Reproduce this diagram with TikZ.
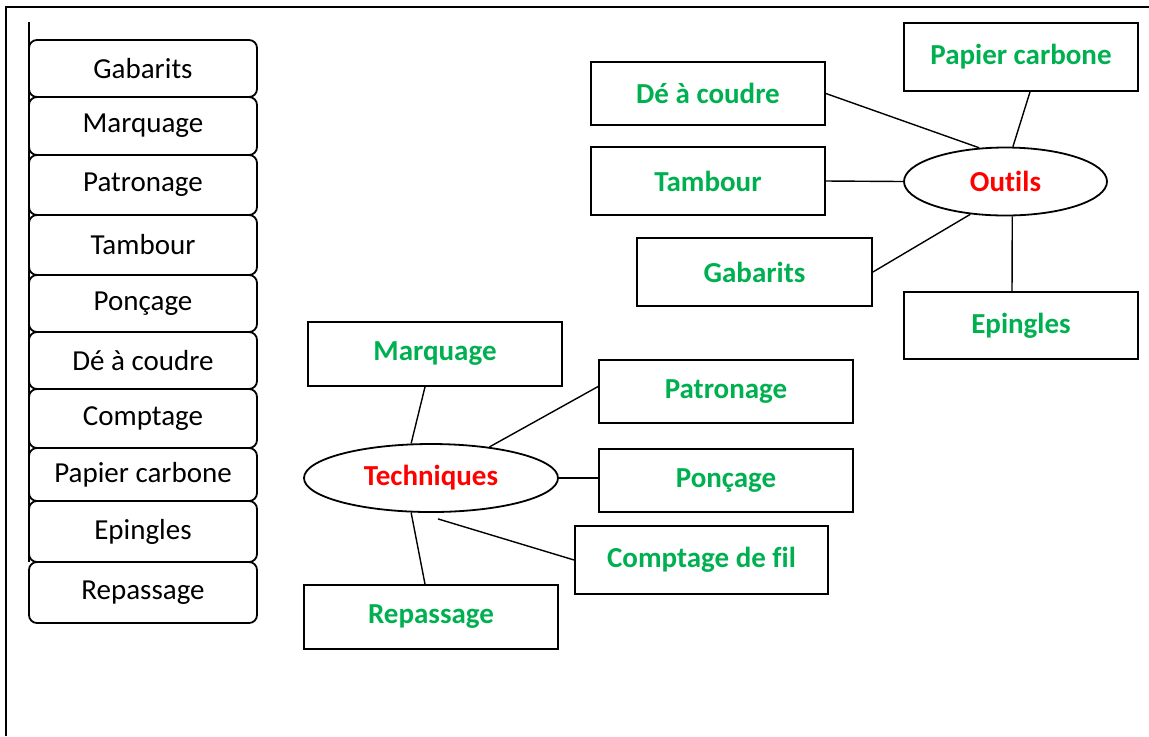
\documentclass[tikz,border=0pt]{standalone}
\usepackage{fontspec}
\setmainfont{Carlito}[RawFeature={-liga;-clig;-dlig}]
\usepackage{tikz}
\usetikzlibrary{shapes.geometric}
\definecolor{vert}{HTML}{00B050}
\definecolor{rouge}{HTML}{FF0000}

\begin{document}
\begin{tikzpicture}
	[x=0.5pt, y=-0.5pt, line width=0.7pt,
	every node/.style={font=\fontsize{14.5pt}{17pt}\selectfont},
	liste/.style={draw, line width=0.9pt, rounded corners=4pt, minimum width=114pt},
	outil/.style={draw, line width=0.9pt, text=vert, font=\fontsize{14.5pt}{17pt}\selectfont\bfseries, minimum width=117pt, minimum height=34pt},
	techn/.style={draw, line width=0.9pt, text=vert, font=\fontsize{14.5pt}{17pt}\selectfont\bfseries, minimum width=127pt, minimum height=32pt},
	centre/.style={ellipse, draw, line width=0.9pt, text=rouge, font=\fontsize{14.5pt}{17pt}\selectfont\bfseries, inner sep=0pt, minimum height=34pt}]
	\useasboundingbox (0,0) rectangle (1149,736);
	\draw[line width=1pt] (6,736) -- (6,7) -- (1149,7);
	\draw[line width=0.9pt] (29,22) -- (29,562);

	\node[liste, minimum height=28.5pt] (l1) at (143,68.5) {Gabarits};
	\node[liste, minimum height=29pt] (l2) at (143,126) {Marquage};
	\node[liste, minimum height=30pt] (l3) at (143,185) {Patronage};
	\node[liste, minimum height=30pt] (l4) at (143,245) {Tambour};
	\node[liste, minimum height=28.5pt] (l5) at (143,303.5) {Ponçage};
	\node[liste, minimum height=28.5pt] (l6) at (143,360.5) {Dé à coudre};
	\node[liste, minimum height=29.5pt] (l7) at (143,418.5) {Comptage};
	\node[liste, minimum height=26.5pt] (l8) at (143,474.5) {Papier carbone};
	\node[liste, minimum height=30.5pt] (l9) at (143,531.5) {Epingles};
	\node[liste, minimum height=30.5pt] (l10) at (143,592.5) {Repassage};

	\node[centre, minimum width=101.5pt] (outils) at (1005.5,181.5) {Outils};
	\node[outil] (pc) at (1021,57) {Papier carbone};
	\node[outil, minimum height=31.5pt] (de) at (708,93.5) {Dé à coudre};
	\node[outil] (tamb) at (708,181) {Tambour};
	\node[outil, minimum width=117.5pt] (gab) at (754.5,272) {Gabarits};
	\node[outil, minimum height=33.5pt] (ep) at (1021,325.5) {Epingles};
	\draw (de.east) -- (outils.128);
	\draw ([xshift=4.5pt]pc.south) -- (outils.78);
	\draw (tamb.east) -- (outils.west);
	\draw (gab.east) -- (outils.223);
	\draw ([xshift=-4.5pt]ep.north) -- (outils.281);

	\node[centre, minimum width=127pt] (tech) at (431,478) {Techniques};
	\node[techn] (marq) at (435,354) {Marquage};
	\node[techn, minimum height=31.5pt] (pat) at (726,391.5) {Patronage};
	\node[techn, minimum height=31.5pt] (ponc) at (726,480.5) {Ponçage};
	\node[techn, minimum width=126.5pt, minimum height=34pt] (comp) at (701.5,560) {Comptage de fil};
	\node[techn] (rep) at (431,617) {Repassage};
	\draw ([xshift=-5pt]marq.south) -- (tech.120);
	\draw (tech.28) -- ([yshift=2.5pt]pat.west);
	\draw (tech.east) -- (tech.east -| ponc.west);
	\draw ([shift={(3.5pt,-3pt)}]tech.south) -- (comp.west);
	\draw (tech.240) -- ([xshift=-3pt]rep.north);
\end{tikzpicture}
\end{document}
